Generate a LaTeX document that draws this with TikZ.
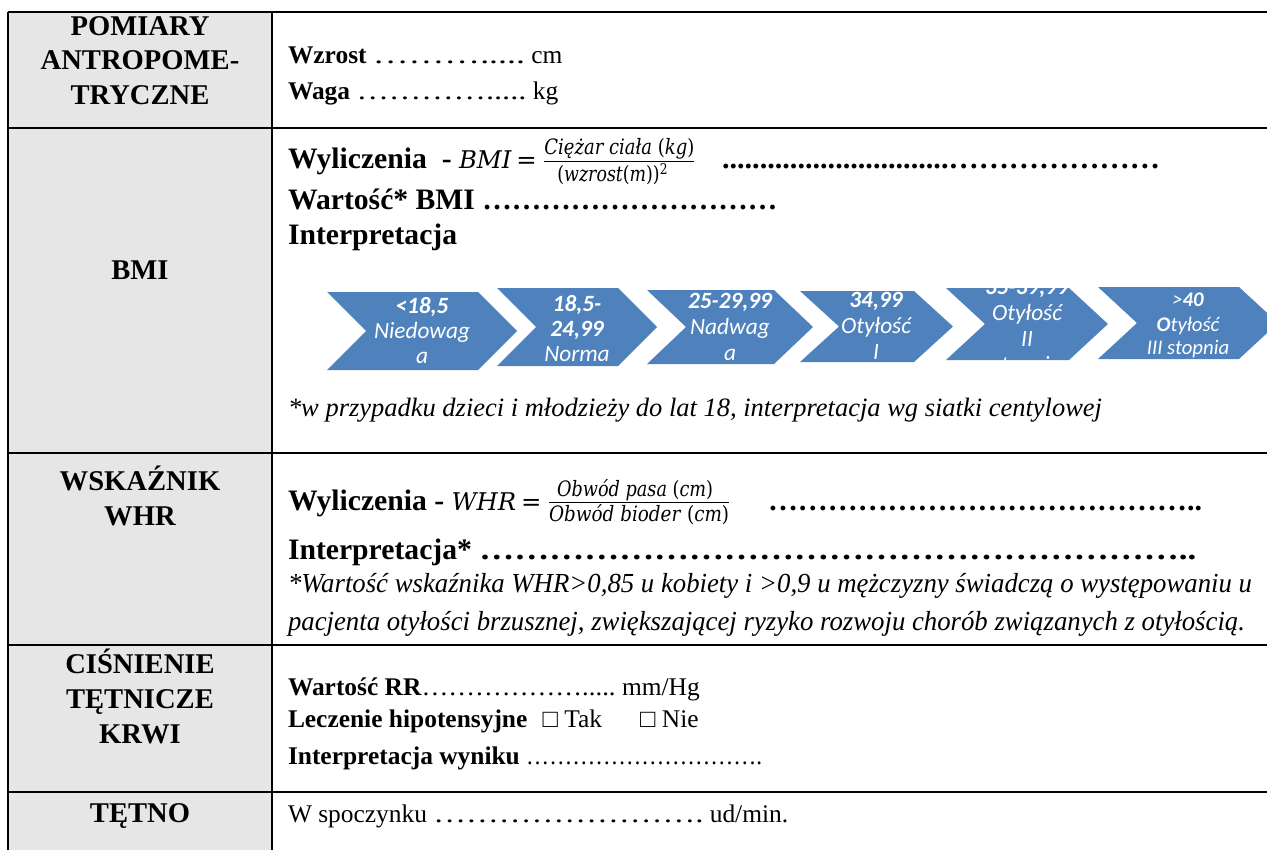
\documentclass[tikz,border=0pt]{standalone}
\usepackage{fontspec}
\usepackage{amsmath}
\usepackage{graphicx}
\setmainfont{Liberation Serif}
\newfontfamily\calib{Carlito}
\newfontfamily\cambria{DejaVu Serif}
\newdimen\px \px=0.472pt
\newcommand{\fitw}[2]{\resizebox{#1}{\height}{#2}}
\newcommand{\fracfont}{\fontsize{10}{12}\selectfont\cambria\itshape}
\newcommand{\formfont}{\fontsize{11.5}{14}\selectfont\cambria}
\newcommand{\chevpath}[4]{(#1,#3) -- ({#2-39},#3) -- (#2,{(#3+#4)/2}) -- ({#2-39},#4) -- (#1,#4) -- ({#1+39},{(#3+#4)/2}) -- cycle}
\definecolor{hdrgray}{RGB}{230,230,230}
\definecolor{chevblue}{RGB}{79,129,189}
\tikzset{
  tx/.style={anchor=base west, inner sep=0pt, outer sep=0pt, font=\fontsize{12}{14}\selectfont},
  txb/.style={tx, font=\fontsize{14}{17}\selectfont},
  txi/.style={tx, font=\fontsize{12.5}{15}\selectfont\itshape},
  lbl/.style={anchor=base, inner sep=0pt, outer sep=0pt, font=\fontsize{13.5}{16}\selectfont\bfseries},
  gridline/.style={line width=2.3\px, black},
  chev/.style={fill=chevblue, draw=none},
  ctx/.style={anchor=base, inner sep=0pt, outer sep=0pt, text=white, font=\calib\itshape\fontsize{11}{13}\selectfont},
  ctxs/.style={ctx, font=\calib\itshape\fontsize{9.8}{12}\selectfont},
}
\begin{document}
\begin{tikzpicture}[x=0.472pt, y=-0.472pt]
\useasboundingbox (0,0) rectangle (1267,850);
% header column
\fill[hdrgray] (8,12) rectangle (272,850);
% grid
\draw[gridline] (8,12) -- (1267,12);
\draw[gridline] (8,128) -- (1267,128);
\draw[gridline] (8,453) -- (1267,453);
\draw[gridline] (8,645) -- (1267,645);
\draw[gridline] (8,792) -- (1267,792);
\draw[gridline] (8,12) -- (8,850);
\draw[gridline] (272,12) -- (272,850);

% left labels
\node[lbl] (l1a) at (140,36) {POMIARY};
\node[lbl] (l1b) at (140,70) {ANTROPOME-};
\node[lbl] (l1c) at (140,105) {TRYCZNE};
\node[lbl] (l2) at (140,279) {BMI};
\node[lbl] (l3a) at (140,490) {WSKAŹNIK};
\node[lbl] (l3b) at (140,525) {WHR};
\node[lbl] (l4a) at (140,673) {CIŚNIENIE};
\node[lbl] (l4b) at (140,708) {TĘTNICZE};
\node[lbl] (l4c) at (140,743) {KRWI};
\node[lbl] (l5) at (140,822) {TĘTNO};

% row 1
\node[tx] (wz) at (288,64) {\textbf{Wzrost} \fitw{152\px}{……….....} cm};
\node[tx] (wg) at (288,100) {\textbf{Waga} \fitw{170\px}{………….....} kg};

% row 2 BMI
\node[txb] (bw) at (288,169) {\textbf{Wyliczenia\ \ -}};
\node[txb] (bf) at (bw.base east) {\ {\formfont\itshape BMI}\,{\formfont =}\,$\frac{\fitw{150\px}{\fracfont Ciężar ciała \textup{(}kg\textup{)}}}{\fitw{111\px}{\fracfont \textup{(}wzrost\textup{(}m\textup{))}\textsuperscript{\upshape 2}}}$};
\node[txb] (bd) at (722,169) {\fitw{438\px}{\textbf{..............................…………………}}};
\node[txb] (bv) at (288,209) {\textbf{Wartość* BMI \fitw{295\px}{…………………………}}};
\node[txb] (bi) at (288,244) {\textbf{Interpretacja}};

% chevrons
\fill[chev] \chevpath{327}{517}{292}{370};
\fill[chev] \chevpath{497}{657}{288}{366};
\fill[chev] \chevpath{647}{813}{290}{364};
\fill[chev] \chevpath{800}{953}{291}{362};
\fill[chev] \chevpath{946}{1108}{288}{360};
\fill[chev] \chevpath{1098}{1278}{287}{359};

\begin{scope}
\clip \chevpath{327}{517}{292}{370};
\node[ctx] (c1a) at (422,313) {\bfseries <18,5};
\node[ctx] (c1b) at (422,338) {Niedowag};
\node[ctx] (c1c) at (422,363) {a};
\end{scope}
\begin{scope}
\clip \chevpath{497}{657}{288}{366};
\node[ctx] (c2a) at (577,311) {\bfseries 18,5-};
\node[ctx] (c2b) at (577,336) {\bfseries 24,99};
\node[ctx] (c2c) at (577,361) {Norma};
\end{scope}
\begin{scope}
\clip \chevpath{647}{813}{290}{364};
\node[ctx] (c3a) at (730,308) {\bfseries 25-29,99};
\node[ctx] (c3b) at (730,334) {Nadwag};
\node[ctx] (c3c) at (730,360) {a};
\end{scope}
\begin{scope}
\clip \chevpath{800}{953}{291}{362};
\node[ctx] (c4a) at (876,307) {\bfseries 34,99};
\node[ctx] (c4b) at (876,333) {Otyłość};
\node[ctx] (c4c) at (876,359) {I};
\end{scope}
\begin{scope}
\clip \chevpath{946}{1108}{288}{360};
\node[ctx] (c5a) at (1027,294) {\bfseries 35-39,99};
\node[ctx] (c5b) at (1027,320) {Otyłość};
\node[ctx] (c5c) at (1027,346) {II};
\node[ctx] (c5d) at (1027,372) {stopnia};
\end{scope}
\begin{scope}
\clip \chevpath{1098}{1278}{287}{359};
\node[ctxs] (c6a) at (1188,306) {>\textbf{40}};
\node[ctxs] (c6b) at (1188,331) {\textbf{O}tyłość};
\node[ctxs] (c6c) at (1188,354) {III stopnia};
\end{scope}

\node[txi] (bn) at (288,416) {*w przypadku dzieci i młodzieży do lat 18, interpretacja wg siatki centylowej};

% row 3 WHR
\node[txb] (hw) at (288,510) {\textbf{Wyliczenia -}};
\node[txb] (hf) at (hw.base east) {\ {\formfont\itshape WHR}\,{\formfont =}\,$\frac{\fitw{156\px}{\fracfont Obwód pasa \textup{(}cm\textup{)}}}{\fitw{180\px}{\fracfont Obwód bioder \textup{(}cm\textup{)}}}$};
\node[txb] (hd) at (768,510) {\fitw{434\px}{\textbf{……………………………………..}}};
\node[txb] (hi) at (288,559) {\textbf{Interpretacja* \fitw{717\px}{……………………………………………………..}}};
\node[tx, font=\fontsize{13}{15}\selectfont\itshape] (hn1) at (288,592) {\fitw{964\px}{*Wartość wskaźnika WHR>0,85 u kobiety i >0,9 u mężczyzny świadczą o występowaniu u}};
\node[tx, font=\fontsize{13}{15}\selectfont\itshape] (hn2) at (288,630) {\fitw{957\px}{pacjenta otyłości brzusznej, zwiększającej ryzyko rozwoju chorób związanych z otyłością.}};

% row 4 RR
\node[tx] (rv) at (288,695) {\textbf{Wartość RR}\fitw{194\px}{……………….....} mm/Hg};
\node[tx] (rl) at (288,727) {\textbf{Leczenie hipotensyjne}\hspace{0.6em}□ Tak\hspace{1.5em}□ Nie};
\node[tx] (ri) at (288,764) {\textbf{Interpretacja wyniku} \fitw{236\px}{………………………….}};

% row 5
\node[tx] (tw) at (288,822) {W spoczynku \fitw{270\px}{…………………….} ud/min.};
\end{tikzpicture}
\end{document}
